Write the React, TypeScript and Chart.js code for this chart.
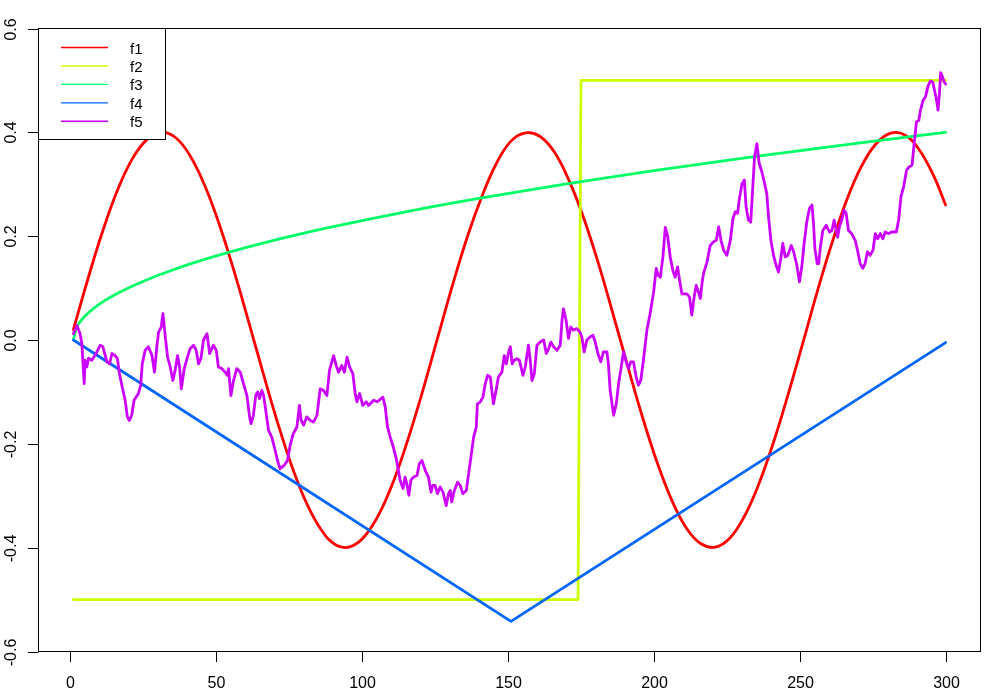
import React, { useEffect, useRef } from "react";
import { Chart, registerables } from "chart.js";

Chart.register(...registerables);

// ---------- data ----------
const seriesNames = ["f1", "f2", "f3", "f4", "f5"];
const seriesColors = ["#FF0000", "#CCFF00", "#00FF66", "#0066FF", "#CC00FF"];

const xTicks = [0, 50, 100, 150, 200, 250, 300];
const xTickLabels = ["0", "50", "100", "150", "200", "250", "300"];
const yTicks = [-0.6, -0.4, -0.2, 0, 0.2, 0.4, 0.6];
const yTickLabels = ["-0.6", "-0.4", "-0.2", "0.0", "0.2", "0.4", "0.6"];

// f1: red wave
const f1X = [
  1, 6, 11, 16, 21, 26, 31, 36, 41, 46, 51, 56, 61, 66, 71, 76, 81, 86, 91, 96,
  101, 106, 111, 116, 121, 126, 131, 136, 141, 146, 151, 156, 161, 166, 171, 176,
  181, 186, 191, 196, 201, 206, 211, 216, 221, 226, 231, 236, 241, 246, 251, 256,
  261, 266, 271, 276, 281, 286, 291, 296, 300,
];
const f1Y = [
  0.02, 0.118, 0.209, 0.287, 0.347, 0.385, 0.4, 0.39, 0.355, 0.298, 0.223, 0.134, 0.037,
  -0.063, -0.159, -0.245, -0.315, -0.366, -0.395, -0.398, -0.377, -0.333, -0.268, -0.186,
  -0.093, 0.007, 0.106, 0.198, 0.276, 0.34, 0.383, 0.399, 0.392, 0.361, 0.306, 0.234,
  0.147, 0.05, -0.05, -0.147, -0.234, -0.307, -0.361, -0.392, -0.399, -0.382, -0.34,
  -0.277, -0.197, -0.105, -0.007, 0.093, 0.186, 0.268, 0.333, 0.377, 0.398, 0.395, 0.366,
  0.315, 0.26,
];

// f2: yellow step
const f2X = [1, 174, 175, 300];
const f2Y = [-0.5, -0.5, 0.5, 0.5];

// f3: green rising curve
const f3X = [1, 2, 3, 5, 8, 12, 17, 25, 35, 50, 70, 90, 115, 140, 170, 200, 235, 270, 300];
const f3Y = [
  0, 0.0231, 0.0327, 0.0463, 0.0612, 0.0767, 0.0925, 0.1133, 0.1349, 0.1619, 0.1922,
  0.2182, 0.247, 0.2727, 0.3007, 0.3263, 0.3539, 0.3794, 0.4,
];

// f4: blue V
const f4X = [1, 151, 300];
const f4Y = [0, -0.542, -0.005];

// f5: purple walk
const f5X = [
  1, 2.2, 3.3, 3.9, 4.7, 5, 5.6, 6.2, 7.3, 8.5, 10.2, 11.1, 12.5, 13.4, 14.2, 15.3, 16.1,
  16.8, 17.6, 18.75, 19.5, 20.2, 21, 21.8, 23.3, 24.1, 24.6, 25.6, 26.7, 27.9, 28.8, 29.6,
  30.2, 31.1, 31.7, 32.5, 33.3, 34.2, 35.1, 35.9, 36.7, 37.4, 38, 39, 40.1, 41, 42.2, 43.1,
  43.9, 44.7, 45.6, 46.8, 47.7, 49, 50, 50.7, 51.9, 53, 53.8, 54.2, 55, 55.9, 57, 58.2,
  59.3, 60.5, 61.4, 61.9, 62.7, 63.5, 64.2, 64.8, 65.6, 66.2, 66.7, 67.9, 69, 70.2, 71.1,
  71.9, 73.3, 74.4, 75.3, 76.4, 77.6, 78.5, 79.1, 79.9, 81, 82.2, 83.3, 84.5, 85.6, 86.7,
  87.9, 88.8, 90.2, 91.1, 91.9, 93, 93.9, 94.8, 95.7, 96.8, 97.6, 98.2, 99.1, 100.2, 101.4,
  102.2, 103.9, 105.2, 107.1, 107.9, 108.7, 109.6, 110.5, 111.7, 112.4, 113, 114, 114.7,
  115.3, 116, 116.7, 117.6, 118.8, 119.6, 120.5, 121.6, 122.7, 123.6, 124.2, 125, 125.8,
  126.7, 127.7, 128.8, 129.6, 130.2, 130.7, 131.6, 132.7, 133.6, 134.5, 135.7, 136.5,
  137.3, 138.2, 139.1, 139.5, 140.5, 141.4, 142.2, 143, 143.9, 144.5, 145, 145.9, 146.7,
  147.9, 148.7, 149.4, 150.2, 150.8, 151.4, 152.1, 153, 153.9, 155.1, 155.9, 157, 157.6,
  158.2, 159, 159.9, 161, 162.2, 163.1, 163.9, 164.7, 165.6, 166.8, 167.9, 168.5, 169,
  169.9, 170.7, 171.5, 172.4, 173.6, 174.7, 175.3, 176.1, 177, 178.2, 179.1, 179.9, 180.8,
  181.8, 182.7, 183.9, 184.4, 185, 186.2, 187.1, 187.9, 188.8, 189.6, 190.5, 191.3, 192.1,
  193, 193.9, 194.7, 195.5, 196.4, 197.6, 198.7, 199.9, 200.8, 201.4, 202.2, 203.1, 203.9,
  204.7, 205.6, 206.5, 207.3, 208.1, 208.8, 209.6, 211.3, 212.2, 213, 213.8, 214.5, 215.3,
  215.9, 216.5, 217, 218.2, 219.3, 220.4, 221.4, 222.2, 223, 223.9, 225, 226.2, 227.1,
  227.9, 228.7, 229.3, 230.2, 231, 231.6, 232.4, 233.2, 233.9, 234.5, 235.3, 236.1, 237,
  237.8, 238.7, 239.3, 240.1, 241, 241.9, 242.7, 243.5, 244.2, 245, 245.9, 247.1, 247.9,
  249, 249.9, 250.7, 251.5, 252.4, 253.3, 254.2, 254.7, 255.2, 256, 256.5, 257, 257.9,
  259.1, 260.2, 261, 261.8, 262.5, 263, 263.6, 264.4, 265.2, 265.9, 266.7, 267.8, 269,
  269.8, 270.7, 271.6, 272.4, 273.2, 274.1, 275.1, 275.9, 276.7, 277.6, 278.5, 279.3,
  280.4, 281.6, 283.1, 283.9, 284.7, 285.6, 286.6, 287.4, 288.5, 289.1, 290, 290.8, 291.4,
  292.3, 293.1, 293.9, 294.8, 295.6, 296.3, 296.9, 297.4, 297.9, 298.3, 298.9, 299.5, 300,
];
const f5Y = [
  0.012, 0.028, 0.012, -0.007, -0.084, -0.039, -0.052, -0.035, -0.039, -0.029, -0.01, -0.013,
  -0.042, -0.046, -0.026, -0.03, -0.036, -0.065, -0.087, -0.116, -0.148, -0.155, -0.145,
  -0.116, -0.103, -0.087, -0.046, -0.02, -0.013, -0.029, -0.062, -0.013, 0.015, 0.025, 0.051,
  0.006, -0.033, -0.052, -0.078, -0.058, -0.03, -0.052, -0.094, -0.055, -0.033, -0.017, -0.01,
  -0.02, -0.046, -0.036, 0, 0.012, -0.026, -0.01, -0.02, -0.052, -0.055, -0.062, -0.068,
  -0.055, -0.107, -0.078, -0.055, -0.062, -0.084, -0.107, -0.148, -0.161, -0.145, -0.107,
  -0.1, -0.113, -0.097, -0.107, -0.126, -0.174, -0.187, -0.213, -0.235, -0.248, -0.241,
  -0.232, -0.203, -0.18, -0.168, -0.126, -0.155, -0.164, -0.148, -0.155, -0.158, -0.145,
  -0.094, -0.097, -0.107, -0.058, -0.03, -0.049, -0.062, -0.049, -0.062, -0.033, -0.052,
  -0.065, -0.103, -0.119, -0.103, -0.126, -0.119, -0.126, -0.116, -0.119, -0.11, -0.129,
  -0.168, -0.187, -0.203, -0.229, -0.251, -0.27, -0.286, -0.264, -0.277, -0.299, -0.27,
  -0.264, -0.261, -0.238, -0.232, -0.251, -0.264, -0.293, -0.28, -0.28, -0.296, -0.283,
  -0.293, -0.319, -0.296, -0.29, -0.312, -0.29, -0.274, -0.28, -0.296, -0.29, -0.257,
  -0.225, -0.187, -0.168, -0.123, -0.119, -0.11, -0.084, -0.068, -0.071, -0.1, -0.123,
  -0.097, -0.071, -0.062, -0.03, -0.046, -0.023, -0.013, -0.046, -0.039, -0.036, -0.039,
  -0.068, -0.052, -0.01, -0.039, -0.078, -0.065, -0.01, -0.004, 0, -0.026, -0.017, -0.004,
  -0.013, -0.02, -0.01, 0.038, 0.06, 0.038, 0.003, 0.025, 0.019, 0.022, 0.015, 0.006,
  -0.023, 0, 0.006, 0.009, -0.004, -0.026, -0.042, -0.023, -0.023, -0.046, -0.097, -0.145,
  -0.123, -0.084, -0.052, -0.023, -0.042, -0.055, -0.042, -0.042, -0.071, -0.087, -0.078,
  -0.039, 0.019, 0.051, 0.092, 0.138, 0.125, 0.121, 0.16, 0.217, 0.2, 0.16, 0.134, 0.121,
  0.141, 0.115, 0.089, 0.089, 0.083, 0.048, 0.083, 0.105, 0.092, 0.08, 0.109, 0.128, 0.15,
  0.182, 0.189, 0.192, 0.218, 0.192, 0.173, 0.163, 0.192, 0.234, 0.247, 0.244, 0.272,
  0.301, 0.308, 0.256, 0.231, 0.227, 0.295, 0.353, 0.378, 0.34, 0.324, 0.305, 0.282, 0.237,
  0.192, 0.163, 0.144, 0.131, 0.157, 0.186, 0.16, 0.163, 0.182, 0.17, 0.144, 0.112, 0.141,
  0.186, 0.227, 0.253, 0.26, 0.225, 0.176, 0.147, 0.147, 0.176, 0.211, 0.221, 0.208, 0.211,
  0.231, 0.211, 0.198, 0.218, 0.231, 0.25, 0.244, 0.211, 0.205, 0.192, 0.173, 0.147, 0.138,
  0.147, 0.17, 0.163, 0.173, 0.205, 0.195, 0.205, 0.195, 0.208, 0.205, 0.208, 0.208, 0.231,
  0.276, 0.295, 0.327, 0.333, 0.337, 0.372, 0.42, 0.423, 0.443, 0.462, 0.468, 0.488, 0.499,
  0.497, 0.478, 0.462, 0.443, 0.475, 0.515, 0.507, 0.497, 0.493,
];

const X_MIN = -10.96;
const X_MAX = 311.96;
const Y_MIN = -0.6;
const Y_MAX = 0.6;

// ---------- helpers ----------
const zip = (xs: number[], ys: number[]) => xs.map((x, i) => ({ x, y: ys[i] }));

const FONT = "'Liberation Sans', Arial, sans-serif";

const rAxesPlugin = {
  id: "rAxes",
  afterDraw(chart: any) {
    const { ctx, chartArea: a, scales } = chart;
    const xs = scales.x;
    const ys = scales.y;
    ctx.save();
    ctx.strokeStyle = "#000";
    ctx.fillStyle = "#000";
    ctx.lineWidth = 1;
    // box
    ctx.strokeRect(a.left, a.top, a.right - a.left, a.bottom - a.top);

    // x axis ticks + labels
    ctx.font = `16px ${FONT}`;
    ctx.textAlign = "center";
    ctx.textBaseline = "alphabetic";
    xTicks.forEach((v, i) => {
      const px = Math.round(xs.getPixelForValue(v)) + 0.5;
      ctx.beginPath();
      ctx.moveTo(px, a.bottom);
      ctx.lineTo(px, a.bottom + 10.5);
      ctx.stroke();
      ctx.fillText(xTickLabels[i], px, a.bottom + 36);
    });

    // y axis ticks + rotated labels
    yTicks.forEach((v, i) => {
      const py = Math.round(ys.getPixelForValue(v)) + 0.5;
      ctx.beginPath();
      ctx.moveTo(a.left, py);
      ctx.lineTo(a.left - 10.5, py);
      ctx.stroke();
      ctx.save();
      ctx.translate(a.left - 22.8, py);
      ctx.rotate(-Math.PI / 2);
      ctx.fillText(yTickLabels[i], 0, 0);
      ctx.restore();
    });

    // legend
    const lx = a.left;
    const ly = a.top;
    const lw = 127;
    const lh = 111;
    ctx.fillStyle = "#fff";
    ctx.fillRect(lx, ly, lw, lh);
    ctx.strokeStyle = "#000";
    ctx.lineWidth = 1;
    ctx.strokeRect(lx, ly, lw, lh);
    ctx.font = `15px ${FONT}`;
    ctx.textAlign = "left";
    chart.data.datasets.forEach((ds: any, i: number) => {
      const y = ly + 19 + i * 18.45;
      ctx.strokeStyle = ds.borderColor;
      ctx.lineWidth = 1.4;
      ctx.beginPath();
      ctx.moveTo(lx + 22.5, y);
      ctx.lineTo(lx + 69.5, y);
      ctx.stroke();
      ctx.fillStyle = "#000";
      ctx.fillText(ds.label, lx + 91.5, y + 6);
    });
    ctx.restore();
  },
};

export default function App() {
  const canvasRef = useRef<HTMLCanvasElement | null>(null);

  useEffect(() => {
    document.body.style.margin = "0";
    const canvas = canvasRef.current;
    if (!canvas) return;
    const xsList = [f1X, f2X, f3X, f4X, f5X];
    const ysList = [f1Y, f2Y, f3Y, f4Y, f5Y];
    const tensions = [0.4, 0, 0, 0, 0];
    const datasets = seriesNames.map((name, i) => ({
      label: name,
      data: zip(xsList[i], ysList[i]),
      borderColor: seriesColors[i],
      backgroundColor: seriesColors[i],
      borderWidth: 2.8,
      pointRadius: 0,
      tension: tensions[i],
      cubicInterpolationMode: i === 2 ? ("monotone" as const) : ("default" as const),
      borderCapStyle: "round" as const,
      borderJoinStyle: "round" as const,
      fill: false,
      order: seriesNames.length - i,
    }));

    const chart = new Chart(canvas, {
      type: "line",
      data: { datasets },
      options: {
        animation: false,
        responsive: false,
        maintainAspectRatio: false,
        devicePixelRatio: 1,
        layout: { padding: { left: 38.5, top: 28.5, right: 19.5, bottom: 48.5 } },
        plugins: { legend: { display: false }, tooltip: { enabled: false } },
        scales: {
          x: { type: "linear", min: X_MIN, max: X_MAX, display: false },
          y: { type: "linear", min: Y_MIN, max: Y_MAX, display: false },
        },
      },
      plugins: [rAxesPlugin],
    });
    return () => chart.destroy();
  }, []);

  return (
    <div style={{ position: "absolute", left: 0, top: 0, width: 1000, height: 700, background: "#fff" }}>
      <canvas ref={canvasRef} width={1000} height={700} style={{ display: "block" }} />
    </div>
  );
}
